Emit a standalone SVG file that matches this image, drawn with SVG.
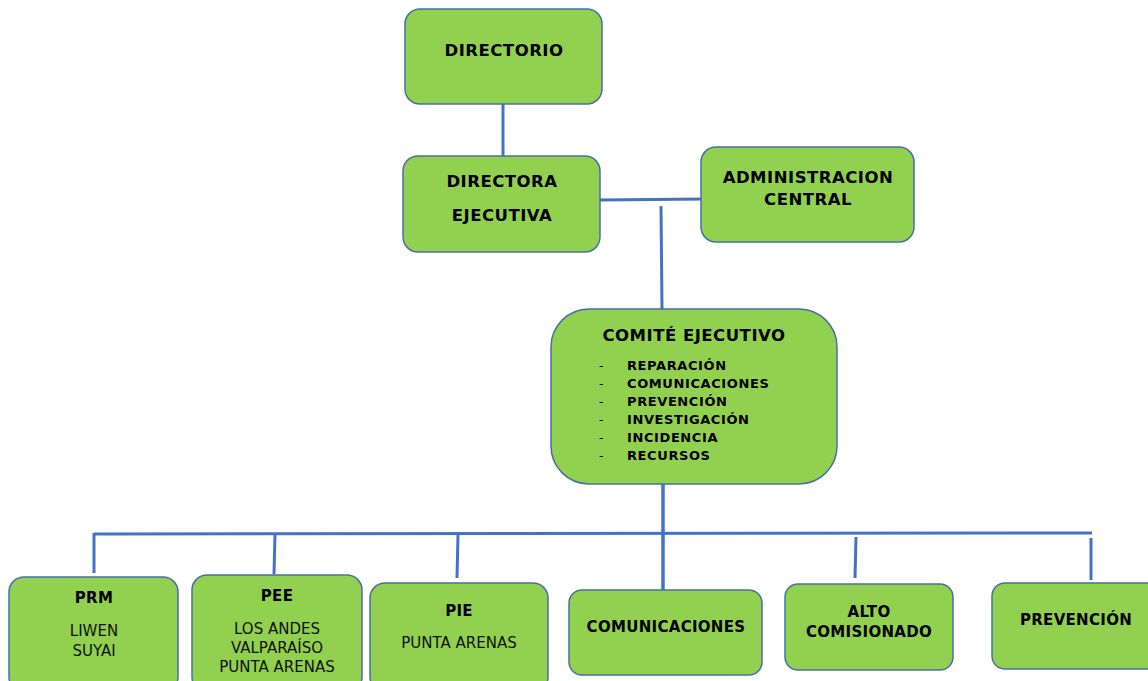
<svg xmlns="http://www.w3.org/2000/svg" width="1148" height="681" viewBox="0 0 1148 681">
<style>
.box{fill:#92D050;stroke:#4A6FA5;stroke-width:1.5}
.ln{stroke:#4472C4;stroke-width:3;fill:none}
.t{font-family:"DejaVu Sans",Verdana,sans-serif;font-weight:bold;font-size:16.5px;letter-spacing:0.5px;fill:#000;text-anchor:middle}
.b{font-family:"DejaVu Sans",Verdana,sans-serif;font-weight:bold;font-size:15px;letter-spacing:0.3px;fill:#000;text-anchor:middle}
.r{font-family:"DejaVu Sans",Verdana,sans-serif;font-size:15px;fill:#111;text-anchor:middle}
.l{font-family:"DejaVu Sans",Verdana,sans-serif;font-weight:bold;font-size:13px;letter-spacing:0.6px;fill:#000}
.d{font-family:"DejaVu Sans",Verdana,sans-serif;font-size:12px;fill:#000}
</style>
<rect width="1148" height="681" fill="#fff"/>
<g id="connectors">
<line class="ln" x1="503" y1="104" x2="503" y2="158"/>
<line class="ln" x1="599" y1="200" x2="704" y2="199"/>
<line class="ln" x1="661" y1="206" x2="662" y2="309"/>
<line class="ln" x1="663" y1="484" x2="663" y2="590" style="stroke-width:3.5"/>
<line class="ln" x1="94" y1="534" x2="1092" y2="533"/>
<line class="ln" x1="94" y1="533" x2="94" y2="573"/>
<line class="ln" x1="275" y1="534" x2="274" y2="574"/>
<line class="ln" x1="458" y1="535" x2="457" y2="578"/>
<line class="ln" x1="856" y1="537" x2="855" y2="578"/>
<line class="ln" x1="1091" y1="538" x2="1091" y2="580"/>
</g>
<g id="directorio">
<rect class="box" x="405" y="9" width="197" height="95" rx="15"/>
<text class="t" x="504" y="56">DIRECTORIO</text>
</g>
<g id="directora">
<rect class="box" x="403" y="156" width="197" height="96" rx="15"/>
<text class="t" x="502" y="187">DIRECTORA</text>
<text class="t" x="502" y="221">EJECUTIVA</text>
</g>
<g id="administracion">
<rect class="box" x="701" y="147" width="213" height="95" rx="15"/>
<text class="t" x="808" y="183">ADMINISTRACION</text>
<text class="t" x="808" y="205">CENTRAL</text>
</g>
<g id="comite">
<rect class="box" x="551" y="309" width="286" height="175" rx="38"/>
<text class="t" x="694" y="341">COMITÉ EJECUTIVO</text>
<text class="d" x="599" y="370">-</text><text class="l" x="627" y="370">REPARACIÓN</text>
<text class="d" x="599" y="388">-</text><text class="l" x="627" y="388">COMUNICACIONES</text>
<text class="d" x="599" y="406">-</text><text class="l" x="627" y="406">PREVENCIÓN</text>
<text class="d" x="599" y="424">-</text><text class="l" x="627" y="424">INVESTIGACIÓN</text>
<text class="d" x="599" y="442">-</text><text class="l" x="627" y="442">INCIDENCIA</text>
<text class="d" x="599" y="460">-</text><text class="l" x="627" y="460">RECURSOS</text>
</g>
<g id="prm">
<rect class="box" x="9" y="577" width="169" height="115" rx="15"/>
<text class="b" x="94" y="603">PRM</text>
<text class="r" x="94" y="636">LIWEN</text>
<text class="r" x="94" y="656">SUYAI</text>
</g>
<g id="pee">
<rect class="box" x="192" y="575" width="170" height="117" rx="15"/>
<text class="b" x="277" y="601">PEE</text>
<text class="r" x="277" y="634">LOS ANDES</text>
<text class="r" x="277" y="653">VALPARAÍSO</text>
<text class="r" x="277" y="672">PUNTA ARENAS</text>
</g>
<g id="pie">
<rect class="box" x="370" y="583" width="178" height="109" rx="15"/>
<text class="b" x="459" y="616">PIE</text>
<text class="r" x="459" y="648">PUNTA ARENAS</text>
</g>
<g id="comunicaciones">
<rect class="box" x="569" y="590" width="193" height="85" rx="13"/>
<text class="b" x="666" y="632">COMUNICACIONES</text>
</g>
<g id="alto">
<rect class="box" x="785" y="584" width="168" height="86" rx="13"/>
<text class="b" x="869" y="617">ALTO</text>
<text class="b" x="869" y="637">COMISIONADO</text>
</g>
<g id="prevencion">
<rect class="box" x="992" y="583" width="170" height="86" rx="13"/>
<text class="b" x="1076" y="625">PREVENCIÓN</text>
</g>
</svg>
